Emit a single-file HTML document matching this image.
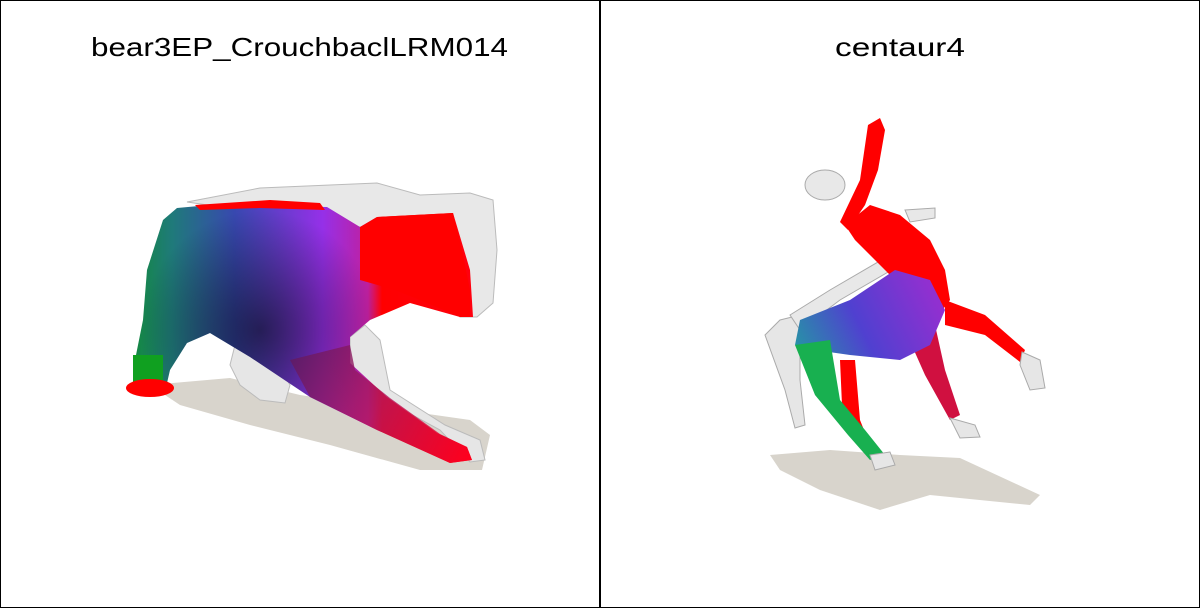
<!DOCTYPE html>
<html><head><meta charset="utf-8"><style>
html,body{margin:0;padding:0;background:#fff}
svg{display:block}
text{font-family:"Liberation Sans",sans-serif}
</style></head><body>
<svg width="1200" height="608" viewBox="0 0 1200 608">
<defs>
<linearGradient id="bearG" x1="130" y1="0" x2="480" y2="0" gradientUnits="userSpaceOnUse">
<stop offset="0" stop-color="#128a3a"/><stop offset="0.12" stop-color="#1f7a7a"/><stop offset="0.3" stop-color="#3848b0"/><stop offset="0.55" stop-color="#9530e8"/><stop offset="0.68" stop-color="#c020a0"/><stop offset="0.72" stop-color="#ff0000"/><stop offset="1" stop-color="#ff0010"/></linearGradient>
<radialGradient id="bearDark" cx="260" cy="330" r="120" gradientUnits="userSpaceOnUse"><stop offset="0" stop-color="#000" stop-opacity="0.55"/><stop offset="1" stop-color="#000" stop-opacity="0"/></radialGradient>
<linearGradient id="legG" x1="280" y1="360" x2="470" y2="460" gradientUnits="userSpaceOnUse"><stop offset="0" stop-color="#5a1a60"/><stop offset="0.5" stop-color="#b01860"/><stop offset="1" stop-color="#ff0020"/></linearGradient>
<linearGradient id="cenG" x1="790" y1="360" x2="930" y2="290" gradientUnits="userSpaceOnUse"><stop offset="0" stop-color="#20a0a0"/><stop offset="0.5" stop-color="#5040d0"/><stop offset="1" stop-color="#9030d0"/></linearGradient>
</defs>
<rect x="0.5" y="0.5" width="1199" height="607" fill="#fff" stroke="#000"/>
<line x1="600" y1="0" x2="600" y2="608" stroke="#000" stroke-width="2"/>
<text x="91" y="56" font-size="26" textLength="417" lengthAdjust="spacingAndGlyphs" fill="#000">bear3EP_CrouchbaclLRM014</text>
<text x="835" y="56" font-size="26" textLength="130" lengthAdjust="spacingAndGlyphs" fill="#000">centaur4</text>

<g>
<polygon fill="#d8d4cc" points="150,385 230,378 300,395 400,410 470,420 490,435 482,470 420,470 330,445 250,425 180,405"/>
<polygon fill="#e8e8e8" stroke="#bbb" stroke-width="1" points="187,202 260,188 377,183 420,195 470,193 493,200 497,250 493,303 477,317 460,317 440,240 360,227"/>
<polygon fill="#e6e6e6" stroke="#bbb" stroke-width="1" points="235,345 255,335 275,360 290,385 285,403 260,400 240,385 230,365"/>
<polygon fill="#e6e6e6" stroke="#bbb" points="350,337 365,325 380,340 390,390 445,425 480,440 485,460 470,462 440,430 385,400 350,365"/>
<polygon fill="url(#bearG)" points="147,270 163,220 177,208 210,205 327,207 360,227 377,217 453,213 470,270 473,317 460,317 410,303 370,320 350,337 350,363 387,397 437,433 467,447 472,460 450,463 377,430 310,397 250,357 210,333 187,343 170,370 167,383 133,383 133,370 143,320"/>
<polygon fill="url(#bearDark)" points="147,270 163,220 177,208 210,205 327,207 360,227 377,217 453,213 470,270 473,317 460,317 410,303 370,320 350,337 350,363 387,397 437,433 467,447 472,460 450,463 377,430 310,397 250,357 210,333 187,343 170,370 167,383 133,383 133,370 143,320"/>
<polygon fill="url(#legG)" opacity="0.8" points="290,360 350,345 355,370 390,398 440,434 467,447 472,460 450,463 377,430 310,397"/>
<polygon fill="#ff0000" points="360,227 377,217 453,213 462,250 470,290 470,317 460,317 420,300 395,290 360,280"/>
<polygon fill="#ff0000" points="195,205 270,200 320,203 325,210 260,208 200,210"/>
<rect x="133" y="355" width="30" height="28" fill="#10a020"/>
<ellipse cx="150" cy="388" rx="24" ry="9" fill="#ff0000"/>
</g>

<g>
<path fill="#d8d4cc" d="M770,455 L830,450 L900,455 L960,458 L1040,495 L1030,505 L930,495 L880,510 L820,490 L780,470 Z"/>
<path fill="#e6e6e6" stroke="#aaa" d="M780,320 L800,315 L800,380 L805,425 L795,428 L785,390 L765,335 Z"/>
<path fill="#e8e8e8" stroke="#aaa" d="M790,315 L830,290 L890,255 L895,268 L840,300 L800,330 Z"/>
<ellipse cx="825" cy="185" rx="20" ry="15" fill="#e8e8e8" stroke="#aaa"/>
<path fill="#e8e8e8" stroke="#aaa" d="M905,210 L935,208 L935,218 L910,222 Z"/>
<path fill="#ff0000" d="M945,300 L985,315 L1025,350 L1020,362 L985,335 L945,325 Z"/>
<path fill="#e6e6e6" stroke="#aaa" d="M1022,352 L1040,360 L1045,388 L1030,390 L1020,365 Z"/>
<path fill="#d01040" d="M905,330 L935,325 L945,370 L960,415 L950,420 L925,375 Z"/>
<path fill="#e6e6e6" stroke="#aaa" d="M950,418 L975,425 L980,437 L960,438 Z"/>
<path fill="#ff0000" d="M840,360 L855,360 L860,420 L868,440 L860,445 L842,405 Z"/>
<path fill="#ff0000" d="M845,225 L870,205 L900,215 L930,240 L945,270 L950,300 L935,320 L895,280 L855,240 Z"/>
<path fill="#ff0000" d="M868,125 L880,118 L885,130 L878,170 L865,205 L848,230 L840,222 L860,180 Z"/>
<path fill="url(#cenG)" d="M800,320 L850,300 L895,270 L930,280 L945,310 L930,345 L900,360 L850,355 L815,350 L795,345 Z"/>
<path fill="#18b050" d="M795,345 L830,340 L840,400 L865,430 L885,455 L870,460 L848,435 L815,395 Z"/>
<path fill="#e6e6e6" stroke="#aaa" d="M870,455 L890,452 L895,465 L875,470 Z"/>
</g>
</svg>
</body></html>
